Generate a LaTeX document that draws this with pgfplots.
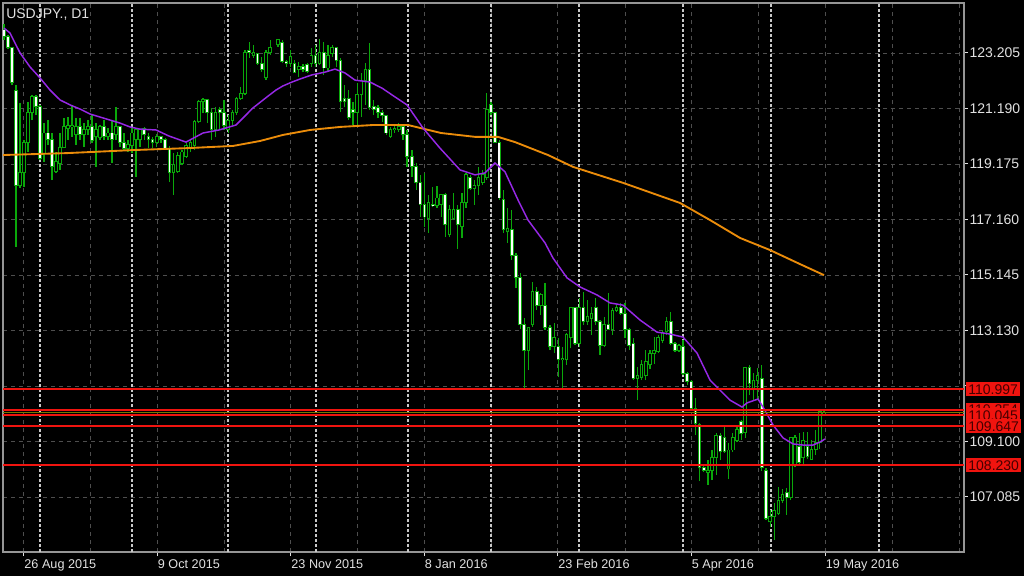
\documentclass[border=0pt]{standalone}
\usepackage{fontspec}
\setmainfont{Liberation Sans}
\usepackage{pgfplots}
\usepackage{pgfplotstable}
\pgfplotsset{compat=1.18}
\definecolor{cgreen}{RGB}{10,168,10}
\definecolor{cpurple}{RGB}{150,40,230}
\definecolor{corange}{RGB}{235,140,10}
\definecolor{cred}{RGB}{240,20,15}
\definecolor{cboxtext}{RGB}{70,0,0}
\definecolor{cgrid}{RGB}{78,78,78}
\definecolor{csep}{RGB}{200,200,200}
\definecolor{cframe}{RGB}{150,150,150}
\definecolor{clabel}{RGB}{225,225,225}
\definecolor{colive}{RGB}{120,120,0}

\pgfplotstableread{
x O H L C
4 124.04 124.26 123.68 123.79
8 123.79 123.86 123.35 123.42
12 123.39 123.42 122.04 122.12
16 121.86 122.04 116.16 118.41
20 118.41 121.39 118.30 118.85
24 118.85 120.05 118.34 119.94
28 119.94 121.43 119.61 121.03
32 121.03 121.68 120.77 121.61
36 121.64 121.68 120.95 121.25
40 121.25 121.32 119.32 119.39
44 119.57 120.66 119.25 120.30
48 120.30 120.77 119.86 120.08
52 120.08 120.30 118.59 119.07
56 118.89 119.61 118.85 119.25
60 119.21 120.30 118.96 119.79
64 119.79 120.84 119.75 120.52
68 120.48 120.88 120.05 120.59
72 120.52 121.32 120.16 120.59
76 120.23 120.84 119.86 120.52
80 120.52 120.84 120.05 120.26
84 120.23 120.66 119.79 120.41
88 120.41 120.77 120.23 120.52
92 120.55 120.95 119.94 120.01
96 120.16 120.66 119.07 120.41
100 120.12 120.59 120.05 120.55
104 120.55 120.77 120.05 120.16
108 120.16 120.48 120.05 120.30
112 120.30 120.77 119.21 120.08
116 120.23 121.25 120.05 120.55
120 120.52 120.55 119.79 119.94
124 119.94 120.30 119.68 119.75
128 119.75 120.05 119.61 119.90
132 119.86 120.52 119.57 120.30
136 120.05 120.48 118.70 120.41
140 120.05 120.44 119.79 120.41
144.2 120.48 120.52 120.05 120.23
148.4 120.19 120.30 119.75 120.05
152.6 120.05 120.16 119.75 119.94
156.8 119.94 120.26 119.79 120.16
161 120.16 120.19 119.94 120.05
165.2 120.05 120.12 119.68 119.75
169.4 119.75 119.83 118.52 118.85
173.6 118.85 119.57 118.05 119.14
177.8 118.89 119.61 118.85 119.50
182 119.21 119.68 119.14 119.61
186.2 119.43 119.94 119.39 119.86
190.4 119.75 120.05 119.61 119.97
194.6 119.86 120.77 119.68 120.70
198.8 120.70 121.50 120.66 121.46
203 121.43 121.57 121.03 121.50
207.2 121.50 121.53 120.66 121.03
211.4 121.03 121.21 120.05 120.41
215.6 120.44 121.25 120.15 121.06
219.8 121.14 121.25 120.41 121.03
224 121.06 121.50 120.41 120.59
228.2 120.41 120.95 120.30 120.77
232.4 120.77 121.14 120.59 121.06
236.6 121.06 121.61 120.95 121.57
240.8 121.57 121.97 121.50 121.75
245 121.75 123.31 121.68 123.205
249.2 123.31 123.60 123.02 123.205
253.4 123.13 123.50 123.02 123.24
257.6 123.17 123.205 122.77 122.84
261.8 122.84 123.06 122.51 122.62
266 122.30 123.31 122.22 123.205
270.2 123.205 123.68 123.13 123.42
278 123.50 123.71 123.42 123.68
282.2 123.60 123.68 122.84 122.88
286.3 122.88 122.95 122.70 122.81
290.5 122.84 123.31 122.70 123.06
294.6 122.84 122.95 122.48 122.51
298.8 122.62 122.88 122.33 122.73
303 122.73 122.81 122.51 122.62
307.1 122.77 122.84 122.48 122.55
311.3 122.84 123.39 122.70 123.13
315.5 123.13 123.50 122.70 122.84
319.6 122.84 123.71 122.77 123.24
323.8 123.24 123.60 122.41 122.66
328 122.66 123.50 122.51 123.13
332.1 123.17 123.50 123.06 123.39
336.3 123.39 123.42 122.70 122.95
340.4 122.95 123.02 121.06 121.43
344.6 121.57 122.04 121.25 121.43
348.8 121.57 121.86 120.77 120.88
352.9 121.17 121.43 120.59 121.06
357.1 121.06 122.12 120.52 121.68
361.3 121.68 122.48 120.88 122.22
365.4 122.22 122.84 121.32 122.59
369.6 122.59 123.57 121.14 121.21
373.7 121.28 121.50 120.95 121.14
377.9 121.21 121.32 120.84 121.06
382.1 121.06 121.14 120.70 120.95
386.2 120.92 120.95 120.23 120.30
390.4 120.16 120.52 120.12 120.41
394.6 120.41 120.59 120.30 120.48
398.7 120.41 120.66 120.34 120.52
402.9 120.52 120.59 120.05 120.23
407 120.23 120.41 119.07 119.43
412 119.43 119.68 118.70 119.07
416.2 119.07 119.21 118.23 118.49
420.3 118.49 118.78 117.25 117.69
424.5 117.69 118.85 116.89 117.25
428.6 117.21 118.05 116.67 117.76
432.8 117.72 118.34 117.61 117.65
436.9 117.65 118.37 117.58 117.94
441.1 117.72 118.08 117.25 118.05
445.2 118.05 118.12 116.52 116.96
449.4 116.60 117.69 116.52 117.54
453.6 117.18 118.12 117.14 117.54
457.7 117.54 117.69 116.09 116.96
461.9 116.89 118.12 116.49 117.76
466 117.76 118.85 117.58 118.78
470.2 118.67 118.78 118.23 118.30
474.3 118.30 118.59 117.69 118.41
478.5 118.38 119.07 118.05 118.67
482.7 118.52 118.96 118.41 118.78
486.8 118.70 121.75 118.59 121.14
491 121.35 121.43 120.95 121.03
495.1 121.03 121.06 119.94 119.97
499.3 119.97 120.05 117.87 117.94
503.4 117.87 118.23 116.67 116.78
507.6 116.71 117.58 116.31 116.85
511.7 116.78 117.50 115.69 115.87
515.9 115.87 115.94 114.67 115.07
520.1 115.07 115.22 113.18 113.33
524.2 113.33 113.58 111.04 112.42
528.4 112.42 113.26 111.69 113.22
532.5 113.33 114.89 113.26 114.53
536.7 114.53 114.71 113.87 114.05
540.8 114.05 114.49 113.69 114.42
545 114.05 114.85 113.15 113.22
550 113.22 113.33 112.42 112.53
554.2 112.53 113.40 112.31 112.86
558.3 112.53 112.86 111.44 112.06
562.5 112.06 112.53 111.04 112.10
566.6 112.06 113.04 111.88 112.97
570.8 112.89 113.98 112.49 113.98
575 113.95 113.98 112.60 112.67
579.1 112.67 114.31 112.53 113.95
583.3 113.95 114.53 113.33 113.44
587.5 113.44 114.24 113.33 113.62
591.6 113.58 113.98 112.97 113.76
595.8 113.95 114.31 113.33 113.44
599.9 113.44 113.51 112.24 112.60
604.1 112.60 113.62 112.53 113.33
608.3 113.33 114.49 113.15 113.18
612.4 113.15 113.95 112.97 113.87
616.6 113.87 114.05 113.80 113.95
620.8 113.95 114.13 113.69 113.76
624.9 113.76 114.13 112.86 113.15
629.1 113.15 113.22 112.42 112.60
633.3 112.67 112.86 111.33 111.40
637.4 111.40 111.80 110.60 111.51
641.6 111.44 112.06 111.33 111.88
645.8 111.51 112.42 111.33 111.99
649.9 111.88 112.42 111.73 112.28
654.1 112.31 112.89 111.91 112.42
658.2 112.35 112.97 112.31 112.86
662.4 112.78 113.15 112.67 113.04
666.6 113.08 113.62 112.97 113.44
670.7 113.44 113.80 112.60 112.67
674.9 112.67 112.71 112.35 112.42
679 112.42 112.64 112.35 112.57
683 112.53 112.78 111.51 111.58
687.1 111.58 111.62 111.15 111.26
691.3 111.26 111.33 110.24 110.31
695.4 110.31 110.68 109.33 109.77
699.6 109.70 109.77 107.66 108.17
703.7 108.17 108.24 107.99 108.06
707.9 107.99 108.43 107.52 108.06
712 108.06 108.79 107.70 108.50
716.2 108.50 109.40 107.88 109.33
720.3 109.33 109.40 108.43 108.72
724.5 109.26 109.70 108.68 108.72
728.6 108.10 109.04 107.73 108.79
732.8 108.79 109.40 108.72 109.23
736.9 109.15 109.70 109.08 109.52
741.1 109.81 109.88 109.15 109.40
745.2 109.44 111.80 109.23 111.77
749.4 111.77 111.88 110.79 111.22
753.5 110.97 111.58 110.60 111.33
757.6 111.33 111.77 110.60 111.51
761.8 111.40 111.88 108.02 108.17
765.9 108.06 108.13 106.25 106.32
770.1 106.18 106.61 105.99 106.36
774.2 106.36 106.86 105.52 106.61
778.4 106.47 107.45 106.43 106.97
782.5 106.97 107.37 106.86 107.16
786.7 107.23 107.41 106.43 107.05
790.8 107.05 109.26 106.97 109.23
795 108.24 109.33 108.17 109.26
799.1 108.90 109.40 108.24 108.35
803.2 108.50 109.44 108.24 109.15
807.4 108.90 109.44 108.46 108.54
811.5 108.46 109.15 108.43 108.82
815.7 108.82 109.52 108.61 109.08
819.8 109.08 110.24 108.82 110.17
824 110.10 110.20 110.08 110.14
}\candles

\begin{document}
\begin{tikzpicture}
\useasboundingbox (0,0) rectangle (768pt,-432pt);
\fill[black] (0,0) rectangle (768pt,-432pt);
\begin{axis}[
  at={(2.25pt,-2.25pt)}, anchor=north west,
  scale only axis, width=720.75pt, height=411.75pt,
  xmin=3, xmax=964, ymin=105.086, ymax=125.02,
  axis line style={draw=cframe, line width=1.3pt},
  tick align=outside,
  xtick pos=left, ytick pos=right,
  yticklabel pos=right,
  major tick length=3pt,
  minor tick length=0pt,
  tick style={draw=clabel, line width=0.75pt},
  xtick={23.5,157,290.5,424,557.5,691,825},
  xticklabels={26 Aug 2015,9 Oct 2015,23 Nov 2015,8 Jan 2016,23 Feb 2016,5 Apr 2016,19 May 2016},
  minor xtick={90,224,357,491,625,758,892,959},
  ytick={107.085,109.1,111.115,113.13,115.145,117.16,119.175,121.19,123.205},
  yticklabels={107.085,109.100,{},113.130,115.145,117.160,119.175,121.190,123.205},
  grid=both,
  major grid style={draw=cgrid, line width=0.6pt, dash pattern=on 3pt off 3pt},
  minor grid style={draw=cgrid, line width=0.6pt, dash pattern=on 3pt off 3pt},
  extra x ticks={40,132,228,316,408,491,579,683,771,879},
  extra x tick labels={},
  extra x tick style={grid=major, major tick length=0pt,
    major grid style={draw=csep, line width=1.2pt, dash pattern=on 2.25pt off 1.5pt}},
  xticklabel style={font=\fontsize{9.5}{11}\selectfont, text=clabel, anchor=north west, inner sep=0pt,
    text height=7pt, text depth=2pt, xshift=0.5pt, yshift=-2.5pt},
  yticklabel style={font=\fontsize{10.5}{12}\selectfont, text=clabel, anchor=west, inner sep=0pt, xshift=1pt},
  clip mode=individual,
]
% wicks
\addplot[draw=none, mark=none, error bars/.cd, y dir=plus, y explicit, error mark=none,
  error bar style={draw=cgreen, line width=0.9pt, solid}]
  table[x=x, y=L, y error plus expr={\thisrow{H}-\thisrow{L}}] {\candles};
% body outline
\addplot[draw=none, mark=none, error bars/.cd, y dir=plus, y explicit, error mark=none,
  error bar style={draw=cgreen, line width=2.7pt, solid}]
  table[x=x, y expr={min(\thisrow{O},\thisrow{C})-0.018}, y error plus expr={abs(\thisrow{C}-\thisrow{O})+0.036}] {\candles};
% bear bodies (white)
\addplot[draw=none, mark=none, error bars/.cd, y dir=plus, y explicit, error mark=none,
  error bar style={draw=white, line width=1.3pt, solid}]
  table[x=x, y expr={\thisrow{C}+0.018}, y error plus expr={max(\thisrow{O}-\thisrow{C}-0.036,0)}] {\candles};
% bull bodies (black)
\addplot[draw=none, mark=none, error bars/.cd, y dir=plus, y explicit, error mark=none,
  error bar style={draw=black, line width=1.3pt, solid}]
  table[x=x, y expr={\thisrow{O}+0.018}, y error plus expr={max(\thisrow{C}-\thisrow{O}-0.036,0)}] {\candles};
% slow MA
\addplot[corange, line width=1.4pt, mark=none] coordinates {
(3,119.50) (67,119.57) (133,119.68) (187,119.75) (233,119.83) (260,120.01) (283,120.23) (310,120.41) (340,120.52) (373,120.59) (408,120.59) (441,120.30) (475,120.16) (498,120.16) (515,119.97) (548,119.50) (573,119.07) (623,118.49) (680,117.76) (710,117.14) (740,116.49) (770,116.05) (800,115.54) (824,115.14)};
% fast MA
\addplot[cpurple, line width=1.1pt, mark=none] coordinates {
(4,124.11) (10,123.93) (20,123.21) (30,122.70) (40,122.30) (50,121.86) (60,121.50) (70,121.32) (80,121.17) (90,120.99) (100,120.88) (110,120.77) (120,120.66) (130,120.52) (140,120.44) (156,120.41) (169,120.19) (186,119.97) (203,120.30) (219,120.41) (236,120.59) (253,121.21) (267,121.61) (276,121.86) (283,122.01) (292,122.15) (300,122.26) (312,122.41) (325,122.51) (335,122.62) (345,122.48) (355,122.22) (370,122.15) (382,121.93) (395,121.61) (407,121.32) (423,120.48) (440,119.75) (460,118.96) (475,118.78) (485,118.85) (495,119.21) (505,118.89) (518,117.87) (528,117.14) (545,116.31) (553,115.76) (567,115.04) (580,114.71) (597,114.42) (610,114.13) (623,114.05) (640,113.51) (657,113.07) (670,113.00) (683,112.89) (697,112.31) (710,111.33) (730,110.60) (742,110.35) (747,110.50) (758,110.64) (763,110.35) (773,109.70) (783,109.23) (793,109.01) (803,108.97) (813,108.97) (820,109.08) (825,109.19)};
% horizontal levels
\addplot[cred, line width=1.5pt] coordinates {(3,110.997) (964,110.997)};
\addplot[cred, line width=1.5pt] coordinates {(3,110.254) (964,110.254)};
\addplot[colive, line width=0.75pt] coordinates {(3,110.14) (964,110.14)};
\addplot[cred, line width=1.5pt] coordinates {(3,110.045) (964,110.045)};
\addplot[cred, line width=1.5pt] coordinates {(3,109.647) (964,109.647)};
\addplot[cred, line width=1.5pt] coordinates {(3,108.230) (964,108.230)};
\coordinate (b1) at (axis cs:966,110.997);
\coordinate (b2) at (axis cs:966,110.254);
\coordinate (b3) at (axis cs:966,110.045);
\coordinate (b4) at (axis cs:966,109.647);
\coordinate (b5) at (axis cs:966,108.230);
\coordinate (ttl) at (axis cs:6,124.62);
\end{axis}
\tikzset{lvl/.style={anchor=west, fill=cred, text=cboxtext, font=\fontsize{10.5}{12}\selectfont,
  inner xsep=1.6pt, inner ysep=0pt, minimum height=10.5pt, text height=7.6pt, text depth=0pt}}
\node[lvl] at (b2) {110.254};
\node[lvl] at (b1) {110.997};
\node[lvl] at (b3) {110.045};
\node[lvl] at (b4) {109.647};
\node[lvl] at (b5) {108.230};
\node[anchor=west, inner sep=0pt, text=clabel, font=\fontsize{10.5}{12}\selectfont] at (ttl) {USDJPY., D1};
\end{tikzpicture}
\end{document}
